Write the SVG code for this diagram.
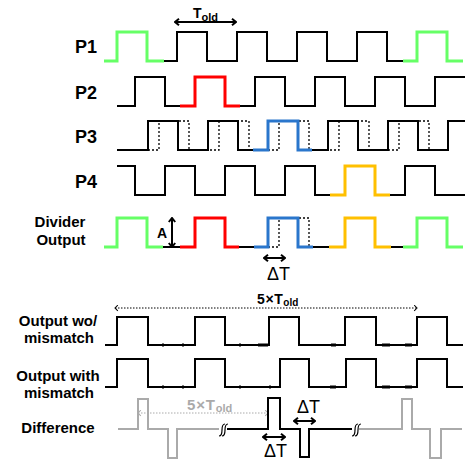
<svg xmlns="http://www.w3.org/2000/svg" width="466" height="462" viewBox="0 0 466 462">
<defs>
<style>
.lbl{font-family:"Liberation Sans",Arial,sans-serif;font-weight:bold;fill:#000}
.big{font-size:18px}
.row{font-size:15px;text-anchor:middle}
.dt{font-family:"Liberation Sans",Arial,sans-serif;font-size:18px;fill:#000}
.w{fill:none;stroke:#000;stroke-width:2;stroke-linejoin:miter;stroke-linecap:butt}
.c{fill:none;stroke-width:3;stroke-linejoin:miter;stroke-linecap:butt}
.g{stroke:#66ff66}
.r{stroke:#ff0000}
.b{stroke:#2a76cc}
.y{stroke:#ffc000}
.dot{fill:none;stroke:#000;stroke-width:1.3;stroke-dasharray:2,2}
.gray{fill:none;stroke:#aaaaaa;stroke-width:2}
.arr{fill:none;stroke:#000;stroke-width:2;marker-start:url(#ch);marker-end:url(#ch)}
.darr{fill:none;stroke:#000;stroke-width:1;stroke-dasharray:1.5,1.5;marker-start:url(#thin);marker-end:url(#thin)}
.garr{fill:none;stroke:#aaaaaa;stroke-width:1;stroke-dasharray:1.5,1.5;marker-start:url(#thing);marker-end:url(#thing)}
.tick{fill:none;stroke:#000;stroke-width:3}
</style>
<marker id="ch" viewBox="0 0 10 10" refX="9" refY="5" markerWidth="8" markerHeight="8" markerUnits="userSpaceOnUse" orient="auto-start-reverse">
<path d="M4,1 L9,5 L4,9" fill="none" stroke="#000" stroke-width="2.5"/>
</marker>
<marker id="thin" viewBox="0 0 10 10" refX="9" refY="5" markerWidth="7" markerHeight="7" markerUnits="userSpaceOnUse" orient="auto-start-reverse">
<path d="M5,1 L9,5 L5,9" fill="none" stroke="#000" stroke-width="1.5"/>
</marker>
<marker id="thing" viewBox="0 0 10 10" refX="9" refY="5" markerWidth="7" markerHeight="7" markerUnits="userSpaceOnUse" orient="auto-start-reverse">
<path d="M5,1 L9,5 L5,9" fill="none" stroke="#aaaaaa" stroke-width="1.5"/>
</marker>
</defs>
<rect width="466" height="462" fill="#fff"/>

<g id="labels">
<text class="lbl big" x="75" y="53">P1</text>
<text class="lbl big" x="75" y="99">P2</text>
<text class="lbl big" x="75" y="143">P3</text>
<text class="lbl big" x="75" y="188">P4</text>
<text class="lbl row" x="60" y="227">Divider</text>
<text class="lbl row" x="61" y="245">Output</text>
<text class="lbl row" x="58" y="326">Output wo/</text>
<text class="lbl row" x="59" y="343">mismatch</text>
<text class="lbl row" x="58" y="381">Output with</text>
<text class="lbl row" x="59" y="398">mismatch</text>
<text class="lbl row" x="58" y="433">Difference</text>
</g>

<g id="told">
<path class="arr" d="M175,22 H236"/>
<text class="lbl" x="193" y="18" font-size="14">T<tspan font-size="11" dy="3">old</tspan></text>
</g>

<g id="P1">
<path class="c g" d="M104,61 H117 V32 H147 V61 H164"/>
<path class="w" d="M164,61 H177 V32 H207 V61 H237 V32 H267 V61 H297 V32 H327 V61 H357 V32 H387 V61 H403"/>
<path class="c g" d="M403,61 H417 V32 H447 V61 H463"/>
</g>

<g id="P2">
<path class="w" d="M117,106 H135 V77 H165 V106 H180"/>
<path class="c r" d="M180,106 H195 V77 H225 V106 H240"/>
<path class="w" d="M240,106 H255 V77 H285 V106 H315 V77 H345 V106 H375 V77 H405 V106 H435 V77 H465"/>
</g>

<g id="P3">
<path class="dot" d="M148,150 H159 V121 H189 V150 H219 V121 H249 V150 H279 V121 H309 V150 H339 V121 H369 V150 H399 V121 H429 V150 H448"/>
<path class="w" d="M117,150 H148 V121 H178 V150 H208 V121 H238 V150 H253"/>
<path class="c b" d="M253,150 H268 V121 H298 V150 H312"/>
<path class="w" d="M312,150 H328 V121 H358 V150 H388 V121 H418 V150 H448 V121 H465"/>
</g>

<g id="P4">
<path class="w" d="M117,166 H135 V195 H165 V166 H195 V195 H225 V166 H255 V195 H285 V166 H315 V195 H330"/>
<path class="c y" d="M330,195 H345 V166 H375 V195 H390"/>
<path class="w" d="M390,195 H405 V166 H435 V195 H465"/>
</g>

<g id="divider">
<path class="dot" d="M268,247 H279 V218 H309 V247 H313"/>
<path class="c g" d="M104,247 H117 V218 H147 V247 H163"/>
<path class="w" d="M163,247 H180"/>
<path class="c r" d="M180,247 H195 V218 H225 V247 H239"/>
<path class="w" d="M239,247 H254"/>
<path class="c b" d="M254,247 H268 V218 H298 V247 H313"/>
<path class="w" d="M313,247 H329"/>
<path class="c y" d="M329,247 H345 V218 H375 V247 H391"/>
<path class="w" d="M391,247 H403"/>
<path class="c g" d="M403,247 H417 V218 H447 V247 H463"/>
<path class="arr" d="M172,218 V247"/>
<text class="lbl" x="157" y="238" font-size="14">A</text>
<path class="arr" d="M264,258 H285"/>
<text class="dt" x="267" y="280">ΔT</text>
</g>

<g id="out-wo">
<path class="darr" d="M115,308 H417"/>
<text class="lbl" x="257" y="304" font-size="14" letter-spacing="0.6">5×T<tspan font-size="10" dy="2" letter-spacing="0">old</tspan></text>
<path class="w" d="M105,345 H117 V317 H148 V345 H195 V317 H225 V345 H269 V317 H299 V345 H345 V317 H376 V345 H417 V317 H447 V345 H463"/>
<path class="tick" d="M162,345 H164 M182,345 H184 M239,345 H241 M258,345 H268 M331,345 H336 M382,345 H390 M405,345 H412"/>
</g>

<g id="out-with">
<path class="w" d="M105,387 H117 V359 H148 V387 H195 V359 H225 V387 H280 V359 H309 V387 H346 V359 H376 V387 H417 V359 H447 V387 H463"/>
<path class="tick" d="M162,387 H164 M182,387 H184 M239,387 H241 M269,387 H271 M330,387 H336 M382,387 H390 M405,387 H412"/>
</g>

<g id="difference">
<path class="garr" d="M138,413 H268"/>
<text class="lbl" x="187" y="410" font-size="15" letter-spacing="0.8" style="fill:#aaaaaa">5×T<tspan font-size="11" dy="2" letter-spacing="0">old</tspan></text>
<path class="gray" d="M118,429 H138 V399 H148 V429 H168 V458 H177 V429 H219"/>
<path d="M219,436 C222,436 222,433 222,430 C222,427 222,424 225,424 M222,436 C225,436 225,433 225,430 C225,427 225,424 228,424" fill="none" stroke="#000" stroke-width="1.2"/>
<path class="w" d="M227,429 H268 V398 H280 V429 H300 V457 H309 V429 H352"/>
<path d="M352,436 C355,436 355,433 355,430 C355,427 355,424 358,424 M355,436 C358,436 358,433 358,430 C358,427 358,424 361,424" fill="none" stroke="#000" stroke-width="1.2"/>
<path class="gray" d="M359,429 H402 V399 H412 V429 H430 V458 H441 V429 H462"/>
<path class="arr" d="M263,437 H285"/>
<text class="dt" x="264" y="457">ΔT</text>
<path class="arr" d="M294,421 H315"/>
<text class="dt" x="297" y="413">ΔT</text>
</g>
</svg>
